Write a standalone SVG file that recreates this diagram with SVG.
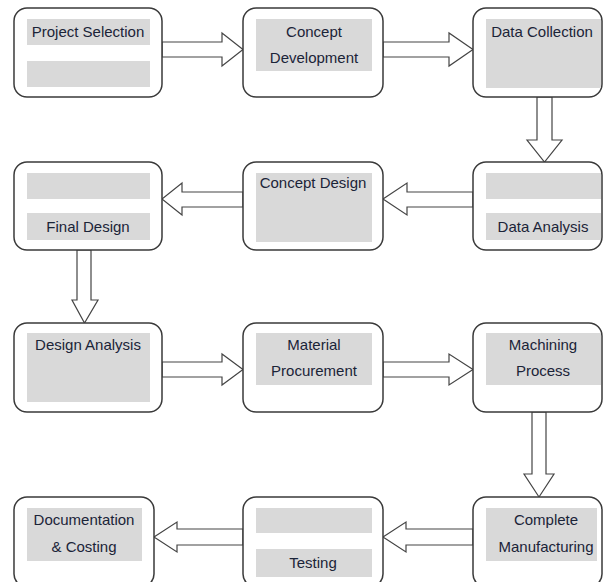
<svg xmlns="http://www.w3.org/2000/svg" width="603" height="582" viewBox="0 0 603 582">
<style>
.box{fill:#fff;stroke:#3a3a3a;stroke-width:1.5}
.g{fill:#d9d9d9}
.t{font-family:"Liberation Sans",Arial,sans-serif;font-size:15px;fill:#1b2438;text-anchor:middle}
.ar{fill:#fff;stroke:#444;stroke-width:1.2;stroke-linejoin:miter}
</style>
<rect width="603" height="582" fill="#fff"/>
<g id="connectors">
<path class="ar" d="M162,42 H222 V33 L243,49.5 L222,66 V57 H162 Z"/>
<path class="ar" d="M383,42 H449 V33 L473,49.5 L449,66 V57 H383 Z"/>
<path class="ar" d="M537,97 V140 H527 L544.5,162 L562,140 H552 V97 Z"/>
<path class="ar" d="M473,192 H407 V183 L383,199 L407,215 V207 H473 Z"/>
<path class="ar" d="M243,192 H182 V183 L162,199 L182,215 V207 H243 Z"/>
<path class="ar" d="M77,250 V300 H72 L84.5,323 L98,300 H91 V250 Z"/>
<path class="ar" d="M162,362 H222 V354 L243,369.5 L222,385 V377 H162 Z"/>
<path class="ar" d="M383,362 H449 V354 L473,369.5 L449,385 V377 H383 Z"/>
<path class="ar" d="M532,412 V474 H524 L539,497 L554,474 H546 V412 Z"/>
<path class="ar" d="M473,529 H406 V522 L383,537 L406,552 V545 H473 Z"/>
<path class="ar" d="M243,529 H177 V522 L154,537 L177,552 V545 H243 Z"/>
</g>
<g id="project-selection">
<rect class="box" x="14" y="8" width="148" height="89" rx="13"/>
<rect class="g" x="27" y="19" width="123" height="26"/>
<rect class="g" x="27" y="61" width="123" height="26"/>
<text class="t" x="88" y="37">Project Selection</text>
</g>
<g id="concept-development">
<rect class="box" x="243" y="8" width="140" height="89" rx="13"/>
<rect class="g" x="256" y="19" width="116" height="52"/>
<text class="t" x="314" y="37">Concept</text>
<text class="t" x="314" y="63">Development</text>
</g>
<g id="data-collection">
<rect class="box" x="473" y="8" width="129" height="89" rx="13"/>
<rect class="g" x="486" y="19" width="115" height="69"/>
<text class="t" x="542" y="37">Data Collection</text>
</g>
<g id="final-design">
<rect class="box" x="14" y="162" width="148" height="88" rx="13"/>
<rect class="g" x="27" y="173" width="123" height="26"/>
<rect class="g" x="27" y="213" width="123" height="27"/>
<text class="t" x="88" y="232">Final Design</text>
</g>
<g id="concept-design">
<rect class="box" x="243" y="162" width="140" height="88" rx="13"/>
<rect class="g" x="256" y="173" width="116" height="69"/>
<text class="t" x="313" y="188">Concept Design</text>
</g>
<g id="data-analysis">
<rect class="box" x="473" y="162" width="129" height="88" rx="13"/>
<rect class="g" x="486" y="173" width="115" height="26"/>
<rect class="g" x="486" y="213" width="115" height="27"/>
<text class="t" x="543" y="232">Data Analysis</text>
</g>
<g id="design-analysis">
<rect class="box" x="14" y="323" width="148" height="89" rx="13"/>
<rect class="g" x="27" y="333" width="123" height="69"/>
<text class="t" x="88" y="350">Design Analysis</text>
</g>
<g id="material-procurement">
<rect class="box" x="243" y="323" width="140" height="89" rx="13"/>
<rect class="g" x="256" y="333" width="116" height="52"/>
<text class="t" x="314" y="350">Material</text>
<text class="t" x="314" y="376">Procurement</text>
</g>
<g id="machining-process">
<rect class="box" x="473" y="323" width="129" height="89" rx="13"/>
<rect class="g" x="486" y="333" width="115" height="52"/>
<text class="t" x="543" y="350">Machining</text>
<text class="t" x="543" y="376">Process</text>
</g>
<g id="documentation-costing">
<rect class="box" x="14" y="497" width="140" height="90" rx="13"/>
<rect class="g" x="27" y="508" width="115" height="53"/>
<text class="t" x="84" y="525">Documentation</text>
<text class="t" x="84" y="552">&amp; Costing</text>
</g>
<g id="testing">
<rect class="box" x="243" y="497" width="140" height="90" rx="13"/>
<rect class="g" x="256" y="508" width="116" height="25"/>
<rect class="g" x="256" y="549" width="116" height="28"/>
<text class="t" x="313" y="568">Testing</text>
</g>
<g id="complete-manufacturing">
<rect class="box" x="473" y="497" width="129" height="90" rx="13"/>
<rect class="g" x="486" y="508" width="111" height="53"/>
<text class="t" x="546" y="525">Complete</text>
<text class="t" x="546" y="552">Manufacturing</text>
</g>
</svg>
